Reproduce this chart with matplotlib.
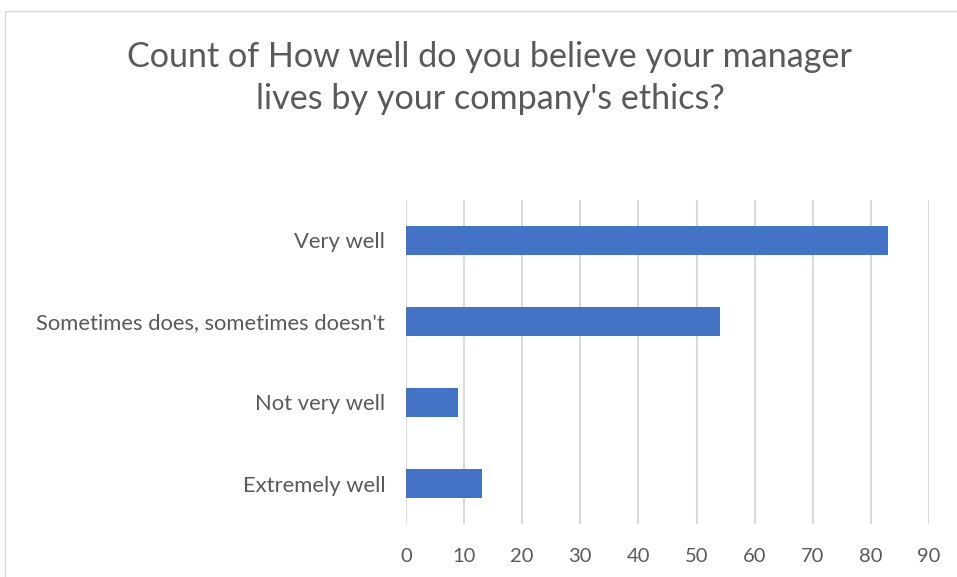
import matplotlib.pyplot as plt
from matplotlib.patches import Rectangle

categories = ["Extremely well", "Not very well", "Sometimes does, sometimes doesn't", "Very well"]
counts = [13, 9, 54, 83]
xticks = [0, 10, 20, 30, 40, 50, 60, 70, 80, 90]

plt.rcParams['font.family'] = ['Lato', 'DejaVu Sans']
text_color = '#595959'

fig = plt.figure(figsize=(9.57, 5.77), dpi=100)
# plot area in pixels: x 406..929, y 200..524 (from top)
W, H = 957, 577
ax = fig.add_axes([406 / W, 1 - 524 / H, (929 - 406) / W, (524 - 200) / H])

ax.barh(range(len(categories)), counts, height=0.36, color='#4472C4', zorder=3)
ax.set_xlim(0, 90)
ax.set_ylim(-0.5, len(categories) - 0.5)
ax.set_xticks(xticks)
ax.set_yticks(range(len(categories)), categories)
ax.grid(axis='x', color='#d9d9d9', linewidth=1.5, zorder=0)
for s in ax.spines.values():
    s.set_visible(False)
ax.tick_params(length=0, labelcolor=text_color)
ax.tick_params(axis='x', pad=17, labelsize=14.5)
ax.tick_params(axis='y', pad=15, labelsize=15.8)

fig.text(490 / W, 1 - 78 / H, "Count of How well do you believe your manager\nlives by your company's ethics?",
         ha='center', va='center', fontsize=24.6, color=text_color, linespacing=1.4)

# chart border (left and top edges visible)
fig.patches.append(Rectangle((4.5 / W, -0.1), 1.2, 1 - 10.5 / H + 0.1, transform=fig.transFigure,
                             fill=False, edgecolor='#d9d9d9', linewidth=1))

fig.savefig('out.png', dpi=100)
